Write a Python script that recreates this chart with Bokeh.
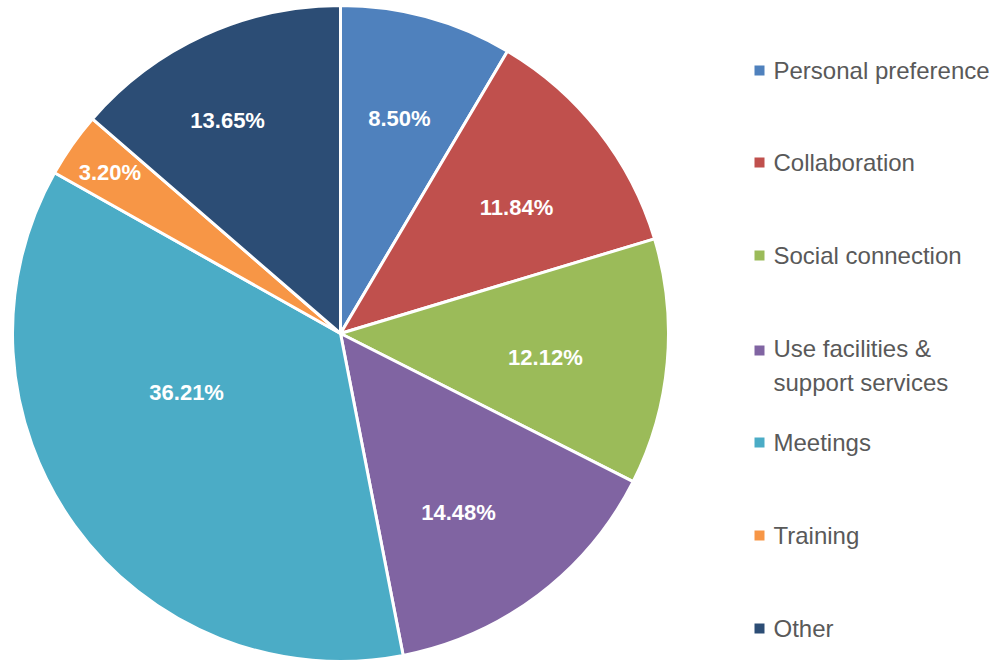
import numpy as np
from bokeh.plotting import figure
from bokeh.models import Range1d, ColumnDataSource
from bokeh.core.properties import value
from bokeh.embed import file_html
from bokeh.resources import INLINE

categories = ["Personal preference", "Collaboration", "Social connection",
              "Use facilities &\nsupport services", "Meetings", "Training", "Other"]
shares = [8.50, 11.84, 12.12, 14.48, 36.21, 3.20, 13.65]
colors = ["#4F81BD", "#C0504D", "#9BBB59", "#8064A2", "#4BACC6", "#F79646", "#2C4D75"]

# layout (figure px, origin top-left of picture)
W, H = 995, 664
cx, cy_top, R = 340, 333, 328
label_rfrac = [0.680, 0.660, 0.629, 0.654, 0.503, 0.857, 0.735]
label_dang = [0.0, 2.5, 1.7, 3.7, 14.7, -0.2, -3.35]  # clockwise degrees
legend_y = [70, 162, 255, 365, 442, 535, 628]

vals = np.array(shares)
frac = vals / vals.sum()
cum = np.concatenate([[0], np.cumsum(frac)])
start = np.pi / 2 - 2 * np.pi * cum[:-1]
end = np.pi / 2 - 2 * np.pi * cum[1:]
mid = (start + end) / 2 - np.radians(label_dang)
cy = H - cy_top

src = ColumnDataSource(dict(start=start, end=end, color=colors))

p = figure(width=W, height=H, output_backend="svg", toolbar_location=None,
           x_range=Range1d(0, W), y_range=Range1d(0, H), min_border=0)
p.axis.visible = False
p.grid.visible = False
p.outline_line_color = None
p.background_fill_color = "white"

p.wedge(x=cx, y=cy, radius=R, start_angle="end", end_angle="start",
        fill_color="color", line_color="white", line_width=3, source=src)

lx = cx + np.array(label_rfrac) * R * np.cos(mid)
ly = cy + np.array(label_rfrac) * R * np.sin(mid)
labels = [f"{v:.2f}%" for v in shares]
p.text(x=lx, y=ly, text=labels, text_color="white", text_font_style="bold",
       text_font=value("Liberation Sans"), text_font_size="22px",
       text_align="center", text_baseline="middle")

ly_leg = H - np.array(legend_y)
first_line_y = np.array([ly_leg[i] + (15 if "\n" in c else 0)
                         for i, c in enumerate(categories)], dtype=float)
p.rect(x=[759] * len(categories), y=first_line_y, width=10, height=10,
       fill_color=colors, line_color=None)
p.text(x=[773] * len(categories), y=ly_leg, text=categories, text_color="#595959",
       text_font=value("Liberation Sans"), text_font_size="24px",
       text_align="left", text_baseline="middle", text_line_height=1.25)

open("out.html", "w").write(file_html(p, INLINE))
